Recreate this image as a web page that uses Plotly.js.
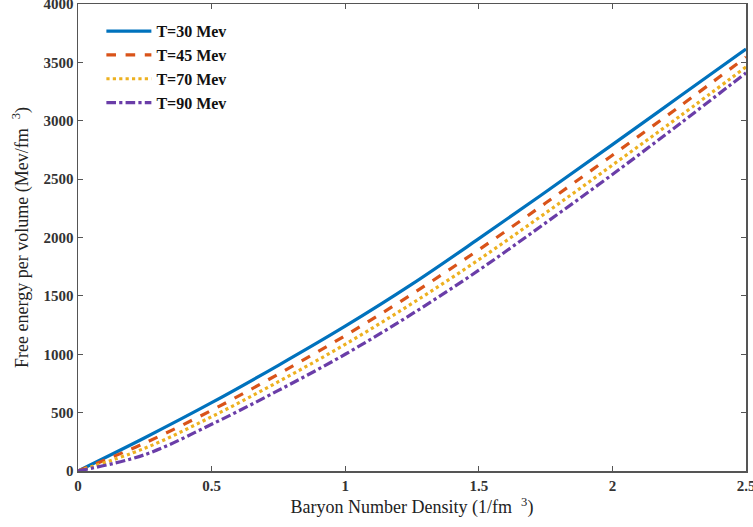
<!DOCTYPE html>
<html>
<head>
<meta charset="utf-8">
<script src="https://cdn.plot.ly/plotly-3.0.1.min.js"></script>
<style>html,body{margin:0;padding:0;background:#fff;}#chart{width:753px;height:527px;}</style>
</head>
<body>
<div id="chart"></div>
<script>
const density = [0, 0.25, 0.5, 0.75, 1, 1.25, 1.5, 1.75, 2, 2.25, 2.5];
const seriesNames = ["T=30 Mev", "T=45 Mev", "T=70 Mev", "T=90 Mev"];
const freeT30 = [0, 285, 585, 905, 1240, 1600, 1990, 2390, 2795, 3205, 3615];
const freeT45 = [0, 240, 520, 830, 1160, 1515, 1895, 2295, 2705, 3120, 3545];
const freeT70 = [0, 195, 465, 765, 1085, 1435, 1810, 2210, 2620, 3035, 3460];
const freeT90 = [0, 140, 400, 690, 1000, 1345, 1720, 2125, 2540, 2970, 3410];
const xTicks = [0, 0.5, 1, 1.5, 2, 2.5];
const xTickText = ["0", "0.5", "1", "1.5", "2", "2.5"];
const yTicks = [0, 500, 1000, 1500, 2000, 2500, 3000, 3500, 4000];

const colors = ["#0072BD", "#D95319", "#EDB120", "#6A3DA8"];
const dashes = ["solid", "dash", "dot", "dashdot"];
const ys = [freeT30, freeT45, freeT70, freeT90];

const traces = ys.map((y, i) => ({
  x: density, y: y, type: "scatter", mode: "lines", name: seriesNames[i],
  line: {color: colors[i], width: 3.2, dash: dashes[i], shape: "spline", smoothing: 1}
}));

const serif = "Liberation Serif, Times New Roman, serif";
const axisCommon = {
  showline: true, linecolor: "#555", linewidth: 1.5, mirror: "ticks",
  ticks: "inside", ticklen: 5, tickcolor: "#555", showgrid: false, zeroline: false,
  ticklabeloverflow: "allow",
  tickfont: {family: serif, size: 15, color: "#333", weight: "bold"}
};

const layout = {
  width: 753, height: 527,
  margin: {l: 78, r: 7, t: 4, b: 56},
  paper_bgcolor: "#fff", plot_bgcolor: "#fff",
  showlegend: true,
  legend: {x: 0.035, y: 0.978, xanchor: "left", yanchor: "top", bgcolor: "rgba(255,255,255,0)",
    font: {family: serif, size: 16, color: "#111", weight: "bold"},
    itemwidth: 45, tracegroupgap: 0},
  xaxis: Object.assign({}, axisCommon, {
    range: [0, 2.5], tickvals: xTicks, ticktext: xTickText,
    title: {text: "Baryon Number Density (1/fm  <sup>3</sup>)", standoff: 8,
      font: {family: serif, size: 18, color: "#222"}}
  }),
  yaxis: Object.assign({}, axisCommon, {
    range: [0, 4000], tickvals: yTicks,
    title: {text: "Free energy per volume (Mev/fm  <sup>3</sup>)", standoff: 10,
      font: {family: serif, size: 18, color: "#222"}}
  })
};

Plotly.newPlot("chart", traces, layout, {displayModeBar: false, staticPlot: true});
</script>
</body>
</html>
